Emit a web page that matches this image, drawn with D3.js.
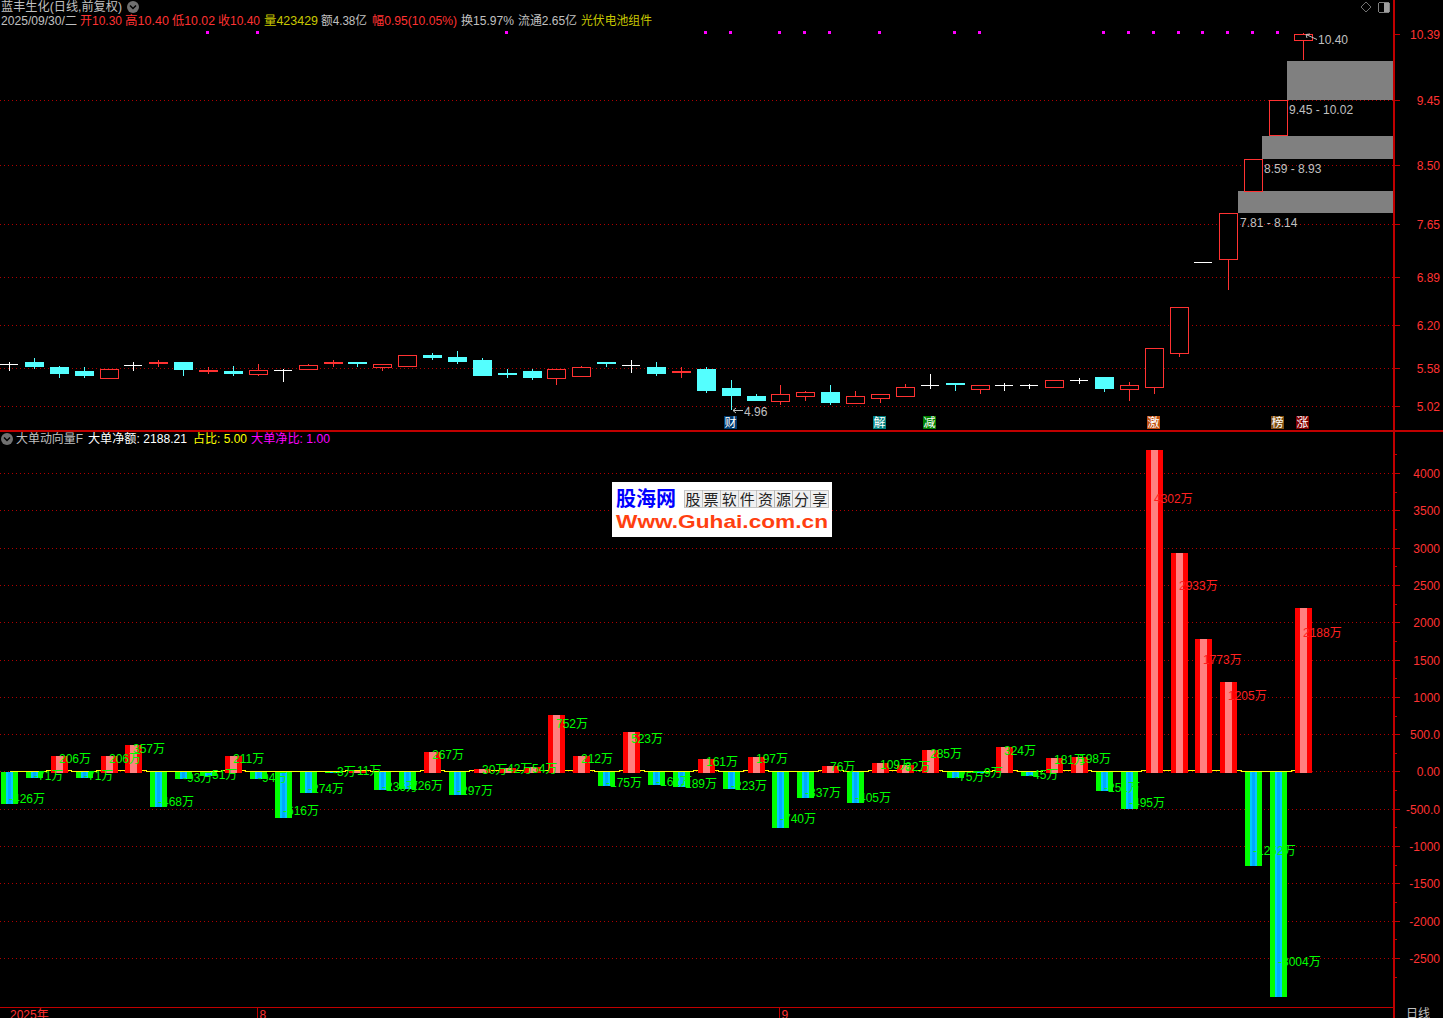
<!DOCTYPE html>
<html><head><meta charset="utf-8">
<style>html,body{margin:0;padding:0;background:#000;overflow:hidden}svg{display:block}text{font-family:"Liberation Sans","Noto Sans CJK SC",sans-serif}line,rect{shape-rendering:crispEdges}</style>
<script src="https://cdn.jsdelivr.net/npm/d3@7/dist/d3.min.js"></script>
</head><body><svg id="c" width="1443" height="1018"></svg>
<script>
const opens=[5.63,5.66,5.58,5.52,5.43,5.61,5.63,5.66,5.52,5.52,5.49,5.54,5.56,5.63,5.66,5.58,5.60,5.76,5.73,5.68,5.50,5.52,5.43,5.46,5.66,5.62,5.59,5.50,5.56,5.28,5.17,5.09,5.17,5.23,5.06,5.14,5.16,5.33,5.36,5.27,5.33,5.33,5.29,5.39,5.44,5.26,5.29,5.79,7.10,7.14,8.13,8.93,10.30];
const highs=[5.65,5.72,5.60,5.58,5.55,5.65,5.68,5.66,5.59,5.60,5.63,5.55,5.63,5.68,5.66,5.63,5.60,5.78,5.81,5.71,5.55,5.55,5.53,5.60,5.66,5.68,5.65,5.58,5.58,5.39,5.20,5.32,5.24,5.32,5.24,5.20,5.34,5.49,5.36,5.33,5.36,5.34,5.39,5.42,5.44,5.37,5.86,6.45,7.10,7.81,8.59,9.44,10.40];
const lows=[5.53,5.55,5.42,5.42,5.43,5.53,5.59,5.45,5.49,5.45,5.45,5.37,5.54,5.58,5.58,5.53,5.60,5.69,5.63,5.45,5.43,5.40,5.33,5.46,5.58,5.50,5.46,5.42,5.21,4.96,5.09,5.03,5.09,5.04,5.06,5.06,5.16,5.26,5.24,5.20,5.24,5.26,5.29,5.34,5.23,5.10,5.19,5.73,7.10,6.69,8.13,8.92,10.02];
const closes=[5.63,5.58,5.49,5.45,5.55,5.61,5.66,5.54,5.54,5.49,5.54,5.54,5.62,5.66,5.63,5.63,5.76,5.72,5.66,5.46,5.49,5.42,5.55,5.59,5.63,5.62,5.49,5.52,5.24,5.16,5.10,5.20,5.23,5.07,5.16,5.19,5.30,5.33,5.32,5.33,5.33,5.33,5.39,5.39,5.27,5.32,5.86,6.45,7.10,7.81,8.59,9.44,10.39];
const flowValues=[-426,-71,206,-71,206,357,-468,-93,-51,211,-94,-616,-274,-3,11,-236,-226,267,-297,30,42,54,752,212,-175,523,-162,-189,161,-223,197,-740,-337,76,-405,109,82,285,-75,-9,324,-45,181,198,-251,-495,4302,2933,1773,1205,-1252,-3004,2188];
const priceTickLabels=["10.39","9.45","8.50","7.65","6.89","6.20","5.58","5.02"];
const priceTickValues=[10.39,9.44,8.50,7.65,6.885,6.195,5.575,5.02];
const flowTicks=[4000,3500,3000,2500,2000,1500,1000,500,0,-500,-1000,-1500,-2000,-2500];
const flowMinor=[4250,3750,3250,2750,2250,1750,1250,750,250,-250,-750,-1250,-1750,-2250,-2750];
const dotIndex=[8,10,20,28,29,31,32,33,35,38,39,44,45,46,47,48,49,50,51];
const gaps=[[9.45,10.02,51],[8.59,8.93,50],[7.81,8.14,49]];
const flags=[[29,"财","#003a70"],[35,"解","#008080"],[37,"减","#008000"],[46,"激","#c05010"],[51,"榜","#805010"],[52,"涨","#800000"]];
const quoteSegments=[["2025/09/30/二",1,76,"#c0c0c0"],["开10.30",80,42,"#ff3232"],["高10.40",125,44,"#ff3232"],["低10.02",172,43,"#ff3232"],["收10.40",218,42,"#ff3232"],["量423429",264,54,"#c8c800"],["额4.38亿",321,46,"#c0c0c0"],["幅0.95(10.05%)",372,85,"#ff3232"],["换15.97%",461,53,"#c0c0c0"],["流通2.65亿",518,59,"#c0c0c0"],["光伏电池组件",581,71,"#c8c800"]];
const indicatorSegments=[["大单动向量F",16,67,"#c0c0c0"],["大单净额: 2188.21",88,99,"#ffffff"],["占比: 5.00",193,54,"#ffff00"],["大单净比: 1.00",251,79,"#ff00ff"]];

const GRID="#b00000",AXIS="#c00000",RED="#ff3232",CYAN="#54ffff";
const svg=d3.select("#c");
svg.append("rect").attr("width",1443).attr("height",1018).attr("fill","#000");
const idx=d3.scaleLinear().domain([0,52]).range([9.5,1303.5]);
const py=d3.scaleLinear().domain([5.02,10.39]).range([406.6,34.5]);
const fy=d3.scaleLinear().domain([-2500,4000]).range([958.5,473.5]);
const snap=v=>Math.floor(v)+.5;
function label(g,s,x,y,col,w,size){
  const t=g.append("text").attr("x",x).attr("y",y).attr("fill",col).attr("font-size",size||12)
   .attr("dominant-baseline","central").text(s);
  if(w) t.attr("textLength",w).attr("lengthAdjust","spacingAndGlyphs");
  return t;
}

// grid
const grid=svg.append("g");
priceTickValues.slice(1).forEach(t=>{const y=snap(py(t));
  grid.append("line").attr("x1",0).attr("x2",1393).attr("y1",y).attr("y2",y).attr("stroke",GRID).attr("stroke-dasharray","1 3");});
flowTicks.forEach(t=>{const y=snap(fy(t));
  grid.append("line").attr("x1",0).attr("x2",1393).attr("y1",y).attr("y2",y).attr("stroke",GRID).attr("stroke-dasharray","1 3");});

// gap zones
const gz=svg.append("g");
gaps.forEach(([lo,hi,i])=>{
  const x=Math.ceil(idx(i)+8.2),t=Math.ceil(py(hi)),b=Math.round(py(lo));
  gz.append("rect").attr("x",x).attr("width",1393-x).attr("y",t).attr("height",b-t).attr("fill","#808080");
  label(gz,`${lo.toFixed(2)} - ${hi.toFixed(2)}`,x+2,b+10,"#c0c0c0");
});

// candles
const cg=svg.append("g");
opens.forEach((o,i)=>{
  const c=closes[i],x=snap(idx(i)),col=c>o?RED:(c<o?CYAN:"#ffffff");
  const top=Math.floor(py(Math.max(o,c))),bot=Math.floor(py(Math.min(o,c)));
  cg.append("line").attr("x1",x).attr("x2",x).attr("y1",Math.floor(py(highs[i]))).attr("y2",Math.floor(py(lows[i]))).attr("stroke",col);
  if(c===o){cg.append("line").attr("x1",x-9.5).attr("x2",x+8.5).attr("y1",top+.5).attr("y2",top+.5).attr("stroke",col);return;}
  const h=Math.max(bot-top,1);
  if(c>o){
    if(h<=2) cg.append("rect").attr("x",x-9.5).attr("y",top).attr("width",19).attr("height",2).attr("fill",col);
    else cg.append("rect").attr("x",x-9).attr("y",top+.5).attr("width",18).attr("height",h).attr("fill","#000").attr("stroke",col);
  } else cg.append("rect").attr("x",x-9.5).attr("y",top).attr("width",19).attr("height",Math.max(h,2)).attr("fill",col);
});

// extreme price labels
svg.append("path").attr("d","M1317,39.5L1306,34.5M1306,34.5L1310,34M1306,34.5L1307,38").attr("fill","none").attr("stroke","#c0c0c0");
label(svg,"10.40",1318,39.5,"#c0c0c0");
svg.append("path").attr("d","M743,410.5L733,410.5M736,408L733,410.5L736,413").attr("fill","none").attr("stroke","#c0c0c0");
label(svg,"4.96",744,411.5,"#c0c0c0");

// limit-up dots
svg.append("g").selectAll("rect").data(dotIndex).join("rect")
 .attr("x",d=>Math.floor(idx(d))-2).attr("y",31).attr("width",3).attr("height",3).attr("fill","#ff00ff");

// flags
flags.forEach(([i,s,col])=>{
  const x=Math.floor(idx(i));
  svg.append("rect").attr("x",x-7).attr("y",416).attr("width",13).attr("height",13).attr("fill",col);
  svg.append("text").attr("x",x-.5).attr("y",423).attr("text-anchor","middle").attr("dominant-baseline","central").attr("font-size",12).attr("fill","#fff").text(s);
});

// yellow base line
const lineData=flowValues.map((v,i)=>({i,v:v>0?14:0}));
svg.append("path").datum(lineData).attr("fill","none").attr("stroke","#ffff00").attr("stroke-width",1).attr("shape-rendering","crispEdges")
 .attr("d",d3.line().x(d=>idx(d.i)).y(d=>Math.floor(fy(d.v))+.5).curve(d3.curveStep));

// bars
const bg=svg.append("g");
flowValues.forEach((v,i)=>{
  const x=Math.floor(idx(i))-8,y0=Math.round(fy(0));
  if(v>=0){
    const t=Math.floor(fy(v)),h=y0-t+1;
    bg.append("rect").attr("x",x).attr("y",t).attr("width",17).attr("height",h).attr("fill","#ff0000");
    bg.append("rect").attr("x",x+5).attr("y",t).attr("width",7).attr("height",h).attr("fill","#ff8080");
  } else {
    const h=Math.max(Math.ceil(fy(v))-y0,1);
    bg.append("rect").attr("x",x).attr("y",y0).attr("width",17).attr("height",h).attr("fill","#00ff00");
    bg.append("rect").attr("x",x+5).attr("y",y0).attr("width",7).attr("height",h).attr("fill","#00c8ff");
    bg.append("rect").attr("x",x+7).attr("y",y0).attr("width",3).attr("height",h).attr("fill","#00a8ff");
  }
});
// value labels
const tg=svg.append("g");
flowValues.forEach((v,i)=>{
  label(tg,v+"万",Math.floor(idx(i)),fy(v*.85),v>=1000?"#ff2020":"#00ff00");
});

// axes & frame
const fr=svg.append("g").attr("stroke",AXIS);
fr.append("line").attr("x1",0).attr("x2",1443).attr("y1",430.5).attr("y2",430.5).attr("stroke-width",1);
fr.append("line").attr("x1",0).attr("x2",1443).attr("y1",431.5).attr("y2",431.5).attr("stroke-width",1);
fr.append("line").attr("x1",0).attr("x2",1394).attr("y1",1007.5).attr("y2",1007.5);
fr.append("line").attr("x1",1394).attr("x2",1394).attr("y1",0).attr("y2",1018).attr("stroke-width",2);
const axG=svg.append("g");
priceTickValues.forEach((t,i)=>{const y=snap(py(t));
  axG.append("line").attr("x1",1395).attr("x2",1400).attr("y1",y).attr("y2",y).attr("stroke",AXIS);
  axG.append("text").attr("x",1440).attr("y",y).attr("text-anchor","end").attr("dominant-baseline","central").attr("fill",RED).attr("font-size",12).text(priceTickLabels[i]);});
flowTicks.forEach(t=>{const y=snap(fy(t));
  axG.append("line").attr("x1",1395).attr("x2",1400).attr("y1",y).attr("y2",y).attr("stroke",AXIS);
  const s=t===0?"0.00":(Math.abs(t)===500?t.toFixed(1):String(t));
  axG.append("text").attr("x",1440).attr("y",y).attr("text-anchor","end").attr("dominant-baseline","central").attr("fill",RED).attr("font-size",12).text(s);});
flowMinor.forEach(t=>{const y=snap(fy(t));
  axG.append("line").attr("x1",1395).attr("x2",1397).attr("y1",y).attr("y2",y).attr("stroke",AXIS);});

// bottom axis
label(svg,"2025年",10,1015,RED);
[[257.5,"8"],[779.5,"9"]].forEach(([x,s])=>{
  svg.append("line").attr("x1",x).attr("x2",x).attr("y1",1008).attr("y2",1018).attr("stroke",AXIS);
  label(svg,s,x+2,1015,RED);});
label(svg,"日线",1406,1014,"#c0c0c0");

// headers
label(svg,"蓝丰生化(日线,前复权)",1,7,"#c0c0c0",121);
quoteSegments.forEach(([s,x,w,col])=>label(svg,s,x,21,col,w));
indicatorSegments.forEach(([s,x,w,col])=>label(svg,s,x,439,col,w));
function chevron(cx,cy){
  svg.append("circle").attr("cx",cx).attr("cy",cy).attr("r",6).attr("fill","#707070");
  svg.append("path").attr("d",`M${cx-3},${cy-1.5}L${cx},${cy+1.5}L${cx+3},${cy-1.5}`).attr("fill","none").attr("stroke","#000").attr("stroke-width",1.5);
}
chevron(133,7);chevron(7,439);
svg.append("path").attr("d","M1366,2L1371,7L1366,12L1361,7Z").attr("fill","none").attr("stroke","#707070");
svg.append("rect").attr("x",1378.5).attr("y",2.5).attr("width",11).attr("height",10).attr("rx",2).attr("fill","none").attr("stroke","#808080");
svg.append("rect").attr("x",1384).attr("y",3).attr("width",5).attr("height",9).attr("fill","#a0a0a0");

// watermark
const wm=svg.append("g");
wm.append("rect").attr("x",612).attr("y",482).attr("width",220).attr("height",55).attr("fill","#fff");
wm.append("text").attr("x",616).attr("y",499).attr("dominant-baseline","central").attr("font-size",20).attr("font-weight",700).attr("fill","#0000ff").attr("textLength",60).attr("lengthAdjust","spacingAndGlyphs").text("股海网");
const wmChars=Array.from("股票软件资源分享");
wmChars.forEach((ch,i)=>{
  const x=684+i*18.1;
  wm.append("rect").attr("x",x).attr("y",490.5).attr("width",18.1).attr("height",17).attr("fill","#f0f0f0").attr("stroke","#b0b0b0").attr("stroke-width",.7);
  wm.append("text").attr("x",x+9).attr("y",499).attr("text-anchor","middle").attr("dominant-baseline","central").attr("font-size",15).attr("fill","#222").text(ch);
});
wm.append("text").attr("x",616).attr("y",521).attr("dominant-baseline","central").attr("font-size",19).attr("font-weight",700).attr("fill","#ff4010").attr("textLength",212).attr("lengthAdjust","spacingAndGlyphs").text("Www.Guhai.com.cn");
</script></body></html>
